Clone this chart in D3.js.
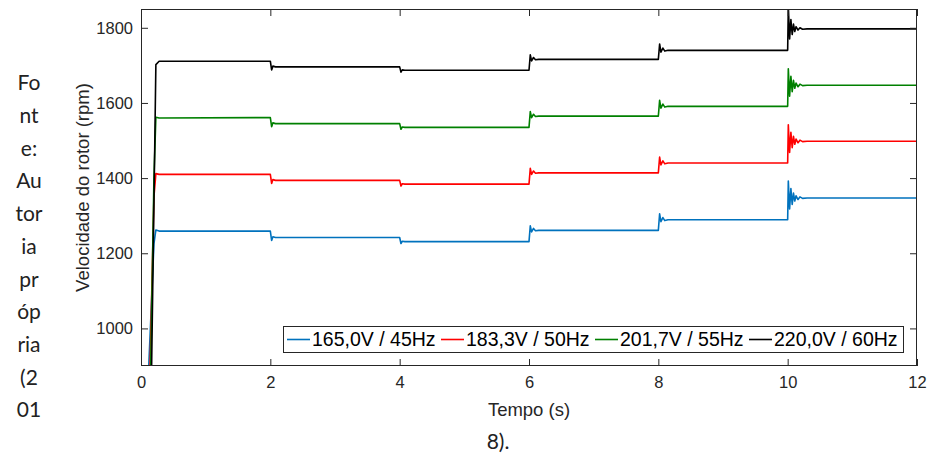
<!DOCTYPE html>
<html>
<head>
<meta charset="utf-8">
<script src="https://cdn.jsdelivr.net/npm/d3@7"></script>
<style>
  body { margin: 0; background: #fff; }
  svg { display: block; }
</style>
</head>
<body>
<svg id="main-svg"></svg>
<script>
// tempo (s) -- shared by every curve
const tempo = [0, 0.1, 0.15, 0.2, 0.23, 0.28,
  2.0, 2.02, 2.04, 2.08,
  4.0, 4.02, 4.04, 4.08,
  6.0, 6.02, 6.04, 6.07, 6.1, 6.15,
  8.0, 8.02, 8.04, 8.07, 8.1, 8.15,
  10.0, 10.01, 10.03, 10.05, 10.07, 10.09, 10.11, 10.13, 10.16, 10.19, 10.23, 10.3,
  12];

// velocidade do rotor (rpm)
const v165 = [0, 820, 1020, 1225, 1262, 1259,
  1259, 1234, 1244, 1242,
  1242, 1226, 1232, 1231,
  1231, 1273, 1257, 1266, 1260, 1261,
  1261, 1305, 1284, 1295, 1287, 1289,
  1289, 1392, 1318, 1372, 1330, 1360, 1339, 1353, 1343, 1350, 1346, 1347,
  1347];
const v183 = [0, 609, 973, 1350, 1412, 1410,
  1410, 1386, 1396, 1394,
  1394, 1379, 1385, 1384,
  1384, 1426, 1410, 1419, 1413, 1414,
  1414, 1456, 1435, 1446, 1438, 1440,
  1440, 1542, 1468, 1522, 1481, 1511, 1490, 1504, 1494, 1501, 1497, 1498,
  1498];
const v201 = [0, 428, 900, 1400, 1562, 1560,
  1561, 1537, 1547, 1545,
  1545, 1530, 1536, 1535,
  1535, 1577, 1561, 1570, 1564, 1565,
  1565, 1607, 1586, 1597, 1589, 1591,
  1591, 1691, 1618, 1671, 1630, 1660, 1639, 1653, 1643, 1650, 1646, 1647,
  1647];
const v220 = [0, 150, 728, 1330, 1702, 1711,
  1711, 1688, 1698, 1696,
  1696, 1682, 1688, 1687,
  1687, 1728, 1712, 1721, 1715, 1716,
  1716, 1757, 1735, 1746, 1738, 1740,
  1740, 1858, 1770, 1822, 1782, 1810, 1790, 1803, 1794, 1800, 1796, 1797,
  1797];

const legendas = ["165,0V / 45Hz", "183,3V / 50Hz", "201,7V / 55Hz", "220,0V / 60Hz"];
const xTicks = [0, 2, 4, 6, 8, 10, 12];
const yTicks = [1000, 1200, 1400, 1600, 1800];
const fonteTexto = ["Fo", "nt", "e:", "Au", "tor", "ia", "pr", "óp", "ria", "(2", "01"];
const fonteFim = "8).";

const CORES = ["#0072BD", "#FF0000", "#008000", "#000000"];
const AXIS_COLOR = "#262626";
const FONT = "'Liberation Sans', Arial, Helvetica, sans-serif";

const W = 930, H = 454;
const PLOT_L = 141, PLOT_R = 917, PLOT_T = 9, PLOT_B = 366;
const TICK = 7;

const svg = d3.select("#main-svg").attr("width", W).attr("height", H);
svg.append("rect").attr("width", W).attr("height", H).attr("fill", "#fff");

const x = d3.scaleLinear().domain([0, 12]).range([PLOT_L, PLOT_R]);
const y = d3.scaleLinear().domain([900, 1850]).range([PLOT_B, PLOT_T]);

svg.append("clipPath").attr("id", "clip")
  .append("rect")
  .attr("x", PLOT_L).attr("y", PLOT_T)
  .attr("width", PLOT_R - PLOT_L).attr("height", PLOT_B - PLOT_T);

// curves
const series = [v165, v183, v201, v220].map((vals, i) => ({
  nome: legendas[i],
  cor: CORES[i],
  pts: tempo.map((t, k) => [t, vals[k]])
}));

const line = d3.line().x(d => x(d[0])).y(d => y(d[1]));

svg.append("g").attr("clip-path", "url(#clip)")
  .selectAll("path")
  .data(series)
  .enter()
  .append("path")
  .attr("d", d => line(d.pts))
  .attr("fill", "none")
  .attr("stroke", d => d.cor)
  .attr("stroke-width", 1.6)
  .attr("stroke-linejoin", "round");

// axes (ticks inside, MATLAB box)
const styleAxis = (g) => {
  g.attr("font-family", FONT).attr("font-size", 16.5);
  g.select(".domain").remove();
  g.selectAll("line").attr("stroke", AXIS_COLOR);
  g.selectAll("text").attr("fill", AXIS_COLOR);
};

svg.append("g").attr("transform", `translate(0,${PLOT_B})`)
  .call(d3.axisBottom(x).tickValues(xTicks).tickFormat(d3.format("d"))
    .tickSizeInner(-TICK).tickSizeOuter(0).tickPadding(10))
  .call(styleAxis);
svg.append("g").attr("transform", `translate(0,${PLOT_T})`)
  .call(d3.axisTop(x).tickValues(xTicks).tickSizeInner(-TICK).tickSizeOuter(0).tickFormat(""))
  .call(styleAxis);
svg.append("g").attr("transform", `translate(${PLOT_L},0)`)
  .call(d3.axisLeft(y).tickValues(yTicks).tickFormat(d3.format("d"))
    .tickSizeInner(-TICK).tickSizeOuter(0).tickPadding(8))
  .call(styleAxis);
svg.append("g").attr("transform", `translate(${PLOT_R},0)`)
  .call(d3.axisRight(y).tickValues(yTicks).tickSizeInner(-TICK).tickSizeOuter(0).tickFormat(""))
  .call(styleAxis);

svg.append("rect")
  .attr("x", PLOT_L + 0.5).attr("y", PLOT_T + 0.5)
  .attr("width", PLOT_R - PLOT_L - 1).attr("height", PLOT_B - PLOT_T - 1)
  .attr("fill", "none").attr("stroke", AXIS_COLOR).attr("stroke-width", 1);

// axis titles
svg.append("text")
  .attr("x", 529).attr("y", 416)
  .attr("text-anchor", "middle")
  .attr("font-family", FONT).attr("font-size", 18.5)
  .attr("fill", AXIS_COLOR)
  .text("Tempo (s)");

svg.append("text")
  .attr("transform", `translate(89,${(PLOT_T + PLOT_B) / 2}) rotate(-90)`)
  .attr("text-anchor", "middle")
  .attr("font-family", FONT).attr("font-size", 18.5)
  .attr("fill", AXIS_COLOR)
  .text("Velocidade do rotor (rpm)");

// legend
const LEG_X = 283, LEG_Y = 326, LEG_W = 620, LEG_H = 26, ENTRY_W = 154;
const legend = svg.append("g");
legend.append("rect")
  .attr("x", LEG_X + 0.5).attr("y", LEG_Y + 0.5)
  .attr("width", LEG_W).attr("height", LEG_H)
  .attr("fill", "#fff").attr("stroke", AXIS_COLOR).attr("stroke-width", 1);

const entries = legend.selectAll("g.entry")
  .data(series)
  .enter()
  .append("g")
  .attr("class", "entry")
  .attr("transform", (d, i) => `translate(${LEG_X + 4 + i * ENTRY_W},${LEG_Y + LEG_H / 2 + 0.5})`);

entries.append("line")
  .attr("x1", 0).attr("x2", 23)
  .attr("stroke", d => d.cor).attr("stroke-width", 1.6);

entries.append("text")
  .attr("x", 25).attr("dy", "0.35em")
  .attr("font-family", FONT).attr("font-size", 19.5)
  .attr("fill", "#000")
  .text(d => d.nome);

// source text squeezed into the left column
svg.append("g")
  .selectAll("text")
  .data(fonteTexto)
  .enter()
  .append("text")
  .attr("x", 29)
  .attr("y", (d, i) => 83 + i * 32.7)
  .attr("dy", "0.35em")
  .attr("text-anchor", "middle")
  .attr("font-family", "Lato, 'Open Sans', sans-serif").attr("font-size", 21)
  .attr("fill", "#222")
  .text(d => d);

svg.append("text")
  .attr("x", 498).attr("y", 442)
  .attr("dy", "0.35em")
  .attr("text-anchor", "middle")
  .attr("font-family", "Lato, 'Open Sans', sans-serif").attr("font-size", 21)
  .attr("fill", "#222")
  .text(fonteFim);
</script>
</body>
</html>
